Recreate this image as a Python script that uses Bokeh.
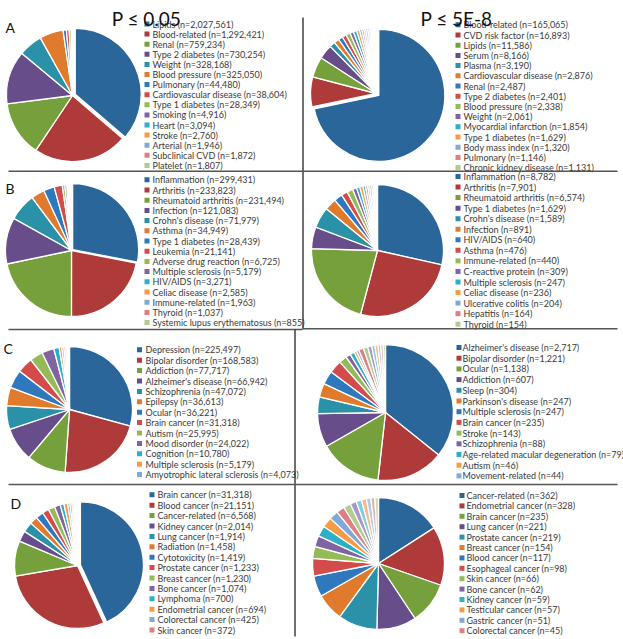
import math
from bokeh.plotting import figure
from bokeh.models import Range1d, ColumnDataSource
from bokeh.core.properties import value
from bokeh.embed import file_html
from bokeh.resources import INLINE

# ---------------- data ----------------
A_L_labels = ["Lipids", "Blood-related", "Renal", "Type 2 diabetes", "Weight", "Blood pressure",
              "Pulmonary", "Cardiovascular disease", "Type 1 diabetes", "Smoking", "Heart",
              "Stroke", "Arterial", "Subclinical CVD", "Platelet"]
A_L_values = [2027561, 1292421, 759234, 730254, 328168, 325050, 44480, 38604, 28349, 4916,
              3094, 2760, 1946, 1872, 1807]
A_L_tail = []

A_R_labels = ["Blood-related", "CVD risk factor", "Lipids", "Serum", "Plasma", "Cardiovascular disease",
              "Renal", "Type 2 diabetes", "Blood pressure", "Weight", "Myocardial infarction",
              "Type 1 diabetes", "Body mass index", "Pulmonary", "Chronic kidney disease"]
A_R_values = [165065, 16893, 11586, 8166, 3190, 2876, 2487, 2401, 2338, 2061, 1854, 1629, 1320, 1146, 1131]
A_R_tail = [1100, 1000, 900, 800, 700, 600, 500, 400]

B_L_labels = ["Inflammation", "Arthritis", "Rheumatoid arthritis", "Infection", "Crohn's disease",
              "Asthma", "Type 1 diabetes", "Leukemia", "Adverse drug reaction", "Multiple sclerosis",
              "HIV/AIDS", "Celiac disease", "Immune-related", "Thyroid", "Systemic lupus erythematosus"]
B_L_values = [299431, 233823, 231494, 121083, 71979, 34949, 28439, 21141, 6725, 5179, 3271, 2585,
              1963, 1037, 855]
B_L_tail = [800, 600, 500, 400]

B_R_labels = ["Inflammation", "Arthritis", "Rheumatoid arthritis", "Type 1 diabetes", "Crohn's disease",
              "Infection", "HIV/AIDS", "Asthma", "Immune-related", "C-reactive protein",
              "Multiple sclerosis", "Celiac disease", "Ulcerative colitis", "Hepatitis", "Thyroid"]
B_R_values = [8782, 7901, 6574, 1629, 1589, 891, 640, 476, 440, 309, 247, 236, 204, 164, 154]
B_R_tail = [150, 130, 110, 100, 90]

C_L_labels = ["Depression", "Bipolar disorder", "Addiction", "Alzheimer's disease", "Schizophrenia",
              "Epilepsy", "Ocular", "Brain cancer", "Autism", "Mood disorder", "Cognition",
              "Multiple sclerosis", "Amyotrophic lateral sclerosis"]
C_L_values = [225497, 168583, 77717, 66942, 47072, 36613, 36221, 31318, 25995, 24022, 10780, 5179, 4073]
C_L_tail = [3500, 3000, 2500, 2000]

C_R_labels = ["Alzheimer's disease", "Bipolar disorder", "Ocular", "Addiction", "Sleep",
              "Parkinson's disease", "Multiple sclerosis", "Brain cancer", "Stroke", "Schizophrenia",
              "Age-related macular degeneration", "Autism", "Movement-related"]
C_R_values = [2717, 1221, 1138, 607, 304, 247, 247, 235, 143, 88, 79, 46, 44]
C_R_tail = [90, 80, 70, 60, 55, 50, 45, 40]

D_L_labels = ["Brain cancer", "Blood cancer", "Cancer-related", "Kidney cancer", "Lung cancer",
              "Radiation", "Cytotoxicity", "Prostate cancer", "Breast cancer", "Bone cancer",
              "Lymphoma", "Endometrial cancer", "Colorectal cancer", "Skin cancer"]
D_L_values = [31318, 21151, 6568, 2014, 1914, 1458, 1419, 1233, 1230, 1074, 700, 694, 425, 372]
D_L_tail = [300, 250, 200, 150, 120]

D_R_labels = ["Cancer-related", "Endometrial cancer", "Brain cancer", "Lung cancer", "Prostate cancer",
              "Breast cancer", "Blood cancer", "Esophageal cancer", "Skin cancer", "Bone cancer",
              "Kidney cancer", "Testicular cancer", "Gastric cancer", "Colorectal cancer"]
D_R_values = [362, 328, 235, 221, 219, 154, 117, 98, 66, 62, 59, 57, 51, 45]
D_R_tail = [40, 35, 30, 28, 25, 22, 20]

titles = ["P \u2264 0.05", "P \u2264 5E-8"]
panel_letters = ["A", "B", "C", "D"]

# ---------------- style ----------------
PALETTE = ["#2A6699", "#AE3A39", "#76A03C", "#674E8A", "#2A91A8", "#E07B2E",
           "#2F78BD", "#D34B4B", "#94BB55", "#8064A2", "#2FAFC6", "#F69A45",
           "#82A8D6", "#E07F7F", "#B0CC8E",
           "#A898C8", "#7FCDE0", "#F9B98A", "#B4C7E7", "#E6B0B0", "#CADCB0",
           "#C5BAD8", "#B0B0B0", "#A8DCE8", "#FAD0AE", "#BBBBBB"]
FONT = "Lato"
W, H = 623, 639


def Y(img_y):
    return H - img_y


p = figure(width=W, height=H, output_backend="svg", toolbar_location=None,
           x_range=Range1d(0, W), y_range=Range1d(0, H),
           min_border=0, background_fill_color="white", border_fill_color="white")
p.axis.visible = False
p.grid.visible = False
p.outline_line_color = None

# layout: (labels, values, tail, pie cx, pie cy, r, explode, sq_x, text_x, y0, dy)
panels = [
    (A_L_labels, A_L_values, A_L_tail, 72, 95, 66, 3, 146.5, 152, 23.5, 10.1),
    (A_R_labels, A_R_values, A_R_tail, 376, 93, 66, 3, 457.5, 463, 24.3, 10.2),
    (B_L_labels, B_L_values, B_L_tail, 71, 250, 66, 1.5, 146.5, 152, 179.3, 10.2),
    (B_R_labels, B_R_values, B_R_tail, 377, 250, 66, 0, 457.5, 463, 176.0, 10.55),
    (C_L_labels, C_L_values, C_L_tail, 69, 409, 63, 0, 139.0, 145, 349.3, 10.4),
    (C_R_labels, C_R_values, C_R_tail, 385, 412, 68, 0, 458.5, 462, 347.0, 10.7),
    (D_L_labels, D_L_values, D_L_tail, 77, 565, 63, 3, 151.5, 157, 494.3, 10.4),
    (D_R_labels, D_R_values, D_R_tail, 378, 563, 66, 0, 461.5, 466, 495.0, 10.4),
]

for labels, values, tail, cx, cy, r, explode, sqx, tx, y0, dy in panels:
    allv = list(values) + list(tail)
    total = float(sum(allv))
    xs, ys, starts, ends, cols = [], [], [], [], []
    cum = 0.0
    for i, v in enumerate(allv):
        f0 = cum / total
        cum += v
        f1 = cum / total
        ox, oy = 0.0, 0.0
        if i == 0 and explode:
            mid = (f0 + f1) * math.pi
            ox = math.sin(mid) * explode
            oy = math.cos(mid) * explode
        xs.append(cx + ox)
        ys.append(Y(cy) + oy)
        starts.append(math.pi / 2 - 2 * math.pi * f0)
        ends.append(math.pi / 2 - 2 * math.pi * f1)
        cols.append(PALETTE[i % len(PALETTE)])
    src = ColumnDataSource(dict(x=xs, y=ys, s=starts, e=ends, c=cols))
    p.wedge(x="x", y="y", radius=r, start_angle="s", end_angle="e", direction="clock",
            fill_color="c", line_color="white", line_width=1.3, source=src)

    # legend
    ly = [Y(y0 + k * dy) for k in range(len(labels))]
    lsrc = ColumnDataSource(dict(
        sx=[sqx] * len(labels), tx=[tx] * len(labels), y=ly,
        c=PALETTE[:len(labels)],
        t=[f"{lab} (n={v:,})" for lab, v in zip(labels, values)]))
    p.rect(x="sx", y="y", width=5, height=5, fill_color="c", line_color=None, source=lsrc)
    p.text(x="tx", y="y", text="t", text_font=value(FONT), text_font_size="9px",
           text_color="#3a3a3a", text_baseline="middle", text_align="left", source=lsrc)

# titles
p.text(x=[146, 456], y=[Y(18), Y(18)], text=titles, text_font=value(FONT),
       text_font_size="19px", text_color="#111111", text_align="center",
       text_baseline="alphabetic")

# panel letters
p.text(x=[5, 5, 3, 10], y=[Y(27), Y(188), Y(348), Y(503)], text=panel_letters,
       text_font=value(FONT), text_font_size="14px", text_color="#111111",
       text_align="left", text_baseline="alphabetic")

# divider lines
hlines = [(8, 302, 170.7), (303, 617, 170.7), (8, 302, 329), (303, 617, 328.3),
          (8, 294, 484), (295, 617, 484)]
p.segment(x0=[h[0] for h in hlines], x1=[h[1] for h in hlines],
          y0=[Y(h[2]) for h in hlines], y1=[Y(h[2]) for h in hlines],
          line_color="#555555", line_width=1.4)
p.segment(x0=[302.5, 294.5], x1=[302.5, 294.5], y0=[Y(17), Y(329)], y1=[Y(329), Y(636)],
          line_color="#333333", line_width=1.4)

open("out.html", "w").write(file_html(p, INLINE))
